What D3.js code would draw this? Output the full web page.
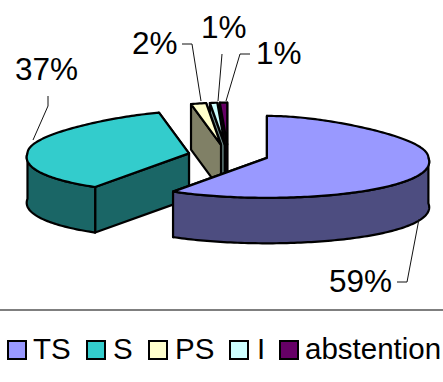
<!DOCTYPE html>
<html>
<head>
<meta charset="utf-8">
<script src="https://cdnjs.cloudflare.com/ajax/libs/d3/7.8.5/d3.min.js"></script>
<style>
  html, body { margin: 0; padding: 0; background: #fff; }
  svg { display: block; }
  text { font-family: "Liberation Sans", Arial, sans-serif; fill: #000; }
</style>
</head>
<body>
<svg id="chart" width="443" height="382"></svg>
<script>
// Vote shares, in percent
const categories = ["TS", "S", "PS", "I", "abstention"];
const shares = [59, 37, 2, 1, 1];

// Slice colours
const topColors = ["#9999ff", "#33cccc", "#ffffcc", "#ccffff", "#660066"];
const sideColors = ["#4d4d80", "#1a6666", "#808066", "#668080", "#330033"];

// Pie geometry: tilted ellipse, extruded downwards, slices pulled from the centre
const centre = { x: 228.5, y: 155 };
const radiusX = 161.5, radiusY = 42, depth = 45.5, explode = 40;

// Label placement and leader lines, per slice
const labelAnchors = [[329, 292], [15, 80], [132, 54], [201, 38], [256, 64]];
const leaders = [
  [[397, 282], [407, 282], [419, 219]],
  [[48, 96], [48, 106], [33, 140]],
  [[182, 44], [192, 44], [201, 101]],
  [[222, 54], [218, 101]],
  [[250, 54], [240, 54], [226, 101]]
];

// Legend layout
const legendSwatchX = [8, 87, 149, 230, 280];
const legendTextX = [33, 113, 175, 257, 305];

const svg = d3.select("#chart");
const line = d3.line();

const arcs = d3.pie().sort(null).startAngle(0).endAngle(2 * Math.PI)(shares)
  .map((d, i) => {
    const mid = (d.startAngle + d.endAngle) / 2;
    return {
      i,
      start: d.startAngle,
      end: d.endAngle,
      apex: {
        x: centre.x + explode * Math.sin(mid),
        y: centre.y - explode * (radiusY / radiusX) * Math.cos(mid)
      }
    };
  });

// Perspective: the far side of the ellipse narrows, the near side widens a little
// and sits slightly flatter
function project(apex, a, z) {
  const c = Math.cos(a);
  const f = c > 0 ? 1 - 0.27 * c * c : 1 - 0.1 * c;
  const ry = c > 0 ? radiusY : radiusY * 0.95;
  return [apex.x + radiusX * Math.sin(a) * f, apex.y - ry * c + z];
}

function arcPoints(apex, a0, a1, z) {
  const n = Math.max(2, Math.ceil(Math.abs(a1 - a0) / 0.02));
  return d3.range(n + 1).map(k => project(apex, a0 + (a1 - a0) * k / n, z));
}

function closed(points, fill, parent) {
  parent.append("path")
    .attr("d", line(points) + "Z")
    .attr("fill", fill)
    .attr("stroke", "#000")
    .attr("stroke-width", 2.2)
    .attr("stroke-linejoin", "round");
}

function cutFace(s, a, parent) {
  const edge = project(s.apex, a, 0);
  const edgeLow = project(s.apex, a, depth);
  closed([edge, [s.apex.x, s.apex.y], [s.apex.x, s.apex.y + depth], edgeLow], sideColors[s.i], parent);
}

// Back-to-front: the small slices sit behind S, and S behind TS
const paintOrder = [4, 3, 2, 1, 0];
const pie = svg.append("g");
paintOrder.forEach(i => {
  const s = arcs[i];
  const g = pie.append("g");
  cutFace(s, s.end, g);
  cutFace(s, s.start, g);

  // Outer wall, only where the rim faces the viewer
  const wallStart = Math.max(s.start, Math.PI / 2);
  const wallEnd = Math.min(s.end, 3 * Math.PI / 2);
  if (wallEnd > wallStart) {
    const upper = arcPoints(s.apex, wallStart, wallEnd, 0);
    const lower = arcPoints(s.apex, wallEnd, wallStart, depth);
    closed(upper.concat(lower), sideColors[i], g);
  }

  const rim = arcPoints(s.apex, s.start, s.end, 0);
  closed([[s.apex.x, s.apex.y]].concat(rim), topColors[i], g);
});

// Leader lines and percentage labels
leaders.forEach(pts => {
  svg.append("path")
    .attr("d", line(pts))
    .attr("fill", "none")
    .attr("stroke", "#111")
    .attr("stroke-width", 1);
});
svg.selectAll("text.pct")
  .data(shares)
  .join("text")
  .attr("class", "pct")
  .attr("x", (d, i) => labelAnchors[i][0])
  .attr("y", (d, i) => labelAnchors[i][1])
  .attr("font-size", 31.5)
  .text(d => d + "%");

// Rule above the legend
svg.append("line")
  .attr("x1", 0).attr("x2", 443)
  .attr("y1", 310).attr("y2", 310)
  .attr("stroke", "#555")
  .attr("stroke-width", 1.5);

// Legend
const legend = svg.append("g");
categories.forEach((name, i) => {
  legend.append("rect")
    .attr("x", legendSwatchX[i]).attr("y", 341)
    .attr("width", 18).attr("height", 18)
    .attr("fill", topColors[i])
    .attr("stroke", "#000")
    .attr("stroke-width", 2);
  legend.append("text")
    .attr("x", legendTextX[i]).attr("y", 358.5)
    .attr("font-size", 29.5)
    .text(name);
});
</script>
</body>
</html>
